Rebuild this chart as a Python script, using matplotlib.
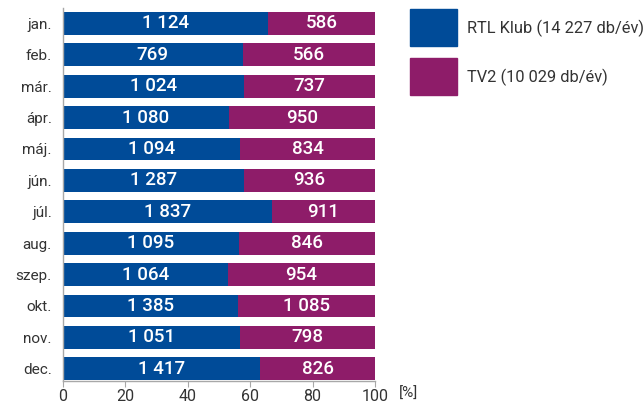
import matplotlib.pyplot as plt
from matplotlib.patches import Rectangle

plt.rcParams["font.family"] = ["Roboto", "DejaVu Sans"]

months = ["jan.", "feb.", "már.", "ápr.", "máj.", "jún.", "júl.", "aug.", "szep.", "okt.", "nov.", "dec."]
rtl = [1124, 769, 1024, 1080, 1094, 1287, 1837, 1095, 1064, 1385, 1051, 1417]
tv2 = [586, 566, 737, 950, 834, 936, 911, 846, 954, 1085, 798, 826]
series_names = ["RTL Klub (14 227 db/év)", "TV2 (10 029 db/év)"]
xticks = [0, 20, 40, 60, 80, 100]

BLUE = "#004B98"
PURPLE = "#8E1C69"
TEXT = "#333333"
GREY = "#A8A8A8"


def fmt(v):
    return f"{v:,}".replace(",", " ")


fig = plt.figure(figsize=(6.44, 4.03), dpi=100)
ax = fig.add_axes([63 / 644, 1 - 381 / 403, 312 / 644, 373 / 403])

y = list(range(len(months)))
rtl_pct = [a / (a + b) * 100 for a, b in zip(rtl, tv2)]
tv2_pct = [100 - p for p in rtl_pct]

ax.barh(y, rtl_pct, height=0.73, color=BLUE)
ax.barh(y, tv2_pct, left=rtl_pct, height=0.73, color=PURPLE)

for i in y:
    ax.text(rtl_pct[i] / 2, i, fmt(rtl[i]), ha="center", va="center",
            color="white", fontsize=13.5, fontweight="medium")
    ax.text(rtl_pct[i] + tv2_pct[i] / 2, i, fmt(tv2[i]), ha="center", va="center",
            color="white", fontsize=13.5, fontweight="medium")

ax.set_xlim(0, 100)
ax.set_ylim(11.39, -0.49)
ax.set_yticks(y)
ax.set_yticklabels(months, color=TEXT, fontsize=11)
ax.set_xticks(xticks)
ax.set_xticklabels([str(t) for t in xticks], color=TEXT, fontsize=11.5)
ax.tick_params(axis="y", length=0, pad=8)
ax.tick_params(axis="x", length=4, color=GREY, pad=1.5)
for s in ["top", "right"]:
    ax.spines[s].set_visible(False)
for s in ["left", "bottom"]:
    ax.spines[s].set_color(GREY)
    ax.spines[s].set_linewidth(1)

fig.text(399 / 644, 1 - 394 / 403, "[%]", color=TEXT, fontsize=11, ha="left", va="center")

# jelmagyarázat
for k, (name, col) in enumerate(zip(series_names, [BLUE, PURPLE])):
    y0 = 9 + k * 49
    fig.add_artist(Rectangle((410 / 644, 1 - (y0 + 37) / 403), 47 / 644, 37 / 403,
                             transform=fig.transFigure, color=col))
    fig.text(467 / 644, 1 - (y0 + 19) / 403, name, color=TEXT, fontsize=11.8,
             ha="left", va="center")

fig.savefig("out.png", dpi=100)
